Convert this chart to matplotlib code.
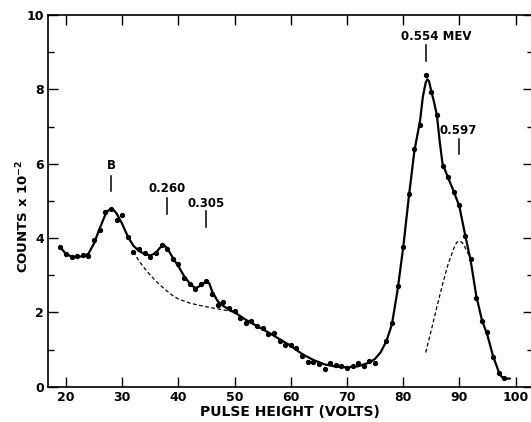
import numpy as np
import matplotlib
matplotlib.use('Agg')
import matplotlib.pyplot as plt
from matplotlib.ticker import MultipleLocator

plt.rcParams['font.family'] = ['DejaVu Sans']
plt.rcParams['font.weight'] = 'bold'
plt.rcParams['mathtext.default'] = 'bf'

#### measured points (pulse height [V], counts x 1e-2)
volts = [19, 20, 21, 22, 23, 24, 25, 26, 27, 28, 29, 30, 31, 32, 33, 34, 35, 36, 37, 38,
         39, 40, 41, 42, 43, 44, 45, 46, 47, 48, 49, 50, 51, 52, 53, 54, 55, 56, 57, 58,
         59, 60, 61, 62, 63, 64, 65, 66, 67, 68, 69, 70, 71, 72, 73, 74, 75, 77, 78, 79,
         80, 81, 82, 83, 84, 85, 86, 87, 88, 89, 90, 91, 92, 93, 94, 95, 96, 97, 98]
counts = [3.77, 3.56, 3.49, 3.52, 3.53, 3.51, 3.94, 4.22, 4.70, 4.78, 4.49, 4.61, 4.03, 3.63,
          3.70, 3.60, 3.50, 3.59, 3.81, 3.71, 3.43, 3.31, 2.93, 2.75, 2.64, 2.77, 2.84, 2.50,
          2.20, 2.27, 2.11, 2.05, 1.85, 1.71, 1.76, 1.62, 1.58, 1.42, 1.44, 1.24, 1.13, 1.13,
          1.04, 0.83, 0.66, 0.66, 0.61, 0.48, 0.63, 0.59, 0.56, 0.51, 0.56, 0.65, 0.57, 0.69,
          0.65, 1.22, 1.71, 2.70, 3.75, 5.18, 6.40, 7.05, 8.38, 7.93, 7.32, 5.93, 5.63, 5.23,
          4.90, 4.05, 3.43, 2.39, 1.77, 1.48, 0.80, 0.36, 0.23]

#### hand-drawn fit through the points
fit_v = [19, 20, 21, 22, 23, 24, 25, 26, 27, 27.5, 28, 28.5, 29, 30, 31, 32, 33, 34, 35, 36,
         36.5, 37, 37.5, 38, 39, 40, 41, 42, 43, 44, 45, 45.5, 46, 47, 48, 49, 50, 52, 54, 56,
         58, 60, 62, 64, 66, 68, 70, 72, 74, 75, 76, 77, 78, 79, 80, 81, 82, 83, 83.5, 84,
         84.3, 84.6, 85, 85.5, 86, 86.5, 87, 88, 89, 90, 91, 92, 93, 94, 95, 96, 97, 97.5,
         98, 99]
fit_c = [3.75, 3.57, 3.50, 3.49, 3.51, 3.58, 3.86, 4.26, 4.63, 4.74, 4.78, 4.75, 4.66, 4.38,
         4.04, 3.79, 3.65, 3.57, 3.53, 3.60, 3.70, 3.78, 3.80, 3.73, 3.47, 3.24, 2.98, 2.78,
         2.65, 2.72, 2.84, 2.78, 2.56, 2.30, 2.17, 2.08, 2.00, 1.80, 1.63, 1.46, 1.28, 1.10,
         0.88, 0.72, 0.60, 0.54, 0.52, 0.55, 0.65, 0.75, 0.93, 1.22, 1.68, 2.60, 3.74, 5.10,
         6.35, 7.15, 7.80, 8.18, 8.27, 8.22, 7.95, 7.65, 7.30, 6.60, 6.00, 5.62, 5.25, 4.85,
         4.10, 3.40, 2.45, 1.80, 1.38, 0.82, 0.40, 0.27, 0.22, 0.22]

#### background under the low-energy lines
bg_v = [32, 33, 34, 35, 36, 37, 38, 39, 40, 42, 44, 46, 48, 50]
bg_c = [3.63, 3.38, 3.18, 3.00, 2.84, 2.70, 2.57, 2.45, 2.36, 2.25, 2.18, 2.12, 2.07, 2.00]

#### resolved 0.597 MeV component
comp_v = [84, 85, 86, 87, 88, 89, 89.5, 90, 90.5, 91, 91.5, 92]
comp_c = [0.92, 1.52, 2.15, 2.75, 3.30, 3.72, 3.88, 3.92, 3.88, 3.75, 3.60, 3.42]

#### line labels: (text, x, text y, marker top, marker bottom)
labels = [('B', 28, 5.96, 5.67, 5.26),
          ('0.260', 38, 5.34, 5.07, 4.64),
          ('0.305', 45, 4.94, 4.72, 4.29),
          ('0.554 MEV', 84, 9.43, 9.18, 8.75),
          ('0.597', 90, 6.89, 6.67, 6.26)]
label_x_off = {'B': 0, '0.260': 0, '0.305': 0, '0.554 MEV': 1.9, '0.597': -0.2}

W, H = 531, 422
fig = plt.figure(figsize=(W / 100, H / 100), dpi=100)
ax = fig.add_axes([48.3 / W, 1 - 386.7 / H, (533 - 48.3) / W, (386.7 - 15) / H])

ax.plot(fit_v, fit_c, '-', color='black', lw=1.6, solid_capstyle='round')
ax.plot(bg_v, bg_c, '--', color='black', lw=0.9, dashes=(3, 2))
ax.plot(comp_v, comp_c, '--', color='black', lw=0.9, dashes=(3, 2))
ax.plot(volts, counts, 'o', color='black', markersize=2.8)

for text, x, ty, y0, y1 in labels:
    ax.text(x + label_x_off[text], ty, text, ha='center', va='center', fontsize=8.5)
    ax.plot([x, x], [y1, y0], color='black', lw=1.1)

ax.set_xlim(16.85, 103.1)
ax.set_ylim(0, 10)

ax.xaxis.set_major_locator(MultipleLocator(10))
ax.yaxis.set_major_locator(MultipleLocator(2))
ax.yaxis.set_minor_locator(MultipleLocator(1))
ax.tick_params(which='both', direction='in', top=True, right=True, width=1.0)
ax.tick_params(which='major', length=7, labelsize=9, pad=3)
ax.tick_params(which='minor', length=4)
for lab in ax.get_xticklabels() + ax.get_yticklabels():
    lab.set_fontweight('bold')
for s in ax.spines.values():
    s.set_linewidth(1.2)

ax.text(0.499, -0.068, 'PULSE HEIGHT (VOLTS)', transform=ax.transAxes,
        ha='center', va='center', fontsize=10)
ax.text(-0.052, 0.459, r'COUNTS x 10$^{-2}$', transform=ax.transAxes,
        ha='center', va='center', rotation=90, fontsize=9.5)

fig.savefig('out.png', dpi=100)
